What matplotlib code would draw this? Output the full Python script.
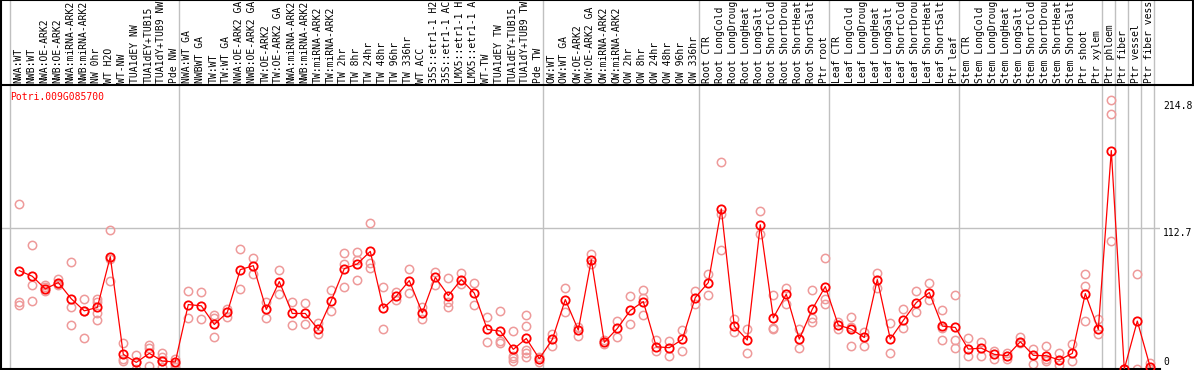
import matplotlib
matplotlib.use("Agg")
import matplotlib.pyplot as plt

# sample names (one per column), grouped by the grey separators
labels = [
    "NWA:WT", "NWB:WT", "NWA:OE-ARK2", "NWB:OE-ARK2", "NWA:miRNA-ARK2", "NWB:miRNA-ARK2",
    "NW 0hr", "WT H2O", "WT-NW", "TUA1dEY NW", "TUA1dEY+TUB15 NW", "TUA1dY+TUB9 NW", "Pde NW",
    "NWA:WT GA", "NWBWT GA", "TW:WT", "TW:WT GA", "NWA:OE-ARK2 GA", "NWB:OE-ARK2 GA",
    "TW:OE-ARK2", "TW:OE-ARK2 GA", "NWA:miRNA-ARK2 GA", "NWB:miRNA-ARK2 GA", "TW:miRNA-ARK2",
    "TW:miRNA-ARK2 GA", "TW 2hr", "TW 8hr", "TW 24hr", "TW 48hr", "TW 96hr", "TW 336hr",
    "WT ACC", "35S::etr1-1 H2O", "35S::etr1-1 ACC", "LMX5::etr1-1 H2O", "LMX5::etr1-1 ACC",
    "WT-TW", "TUA1dEY TW", "TUA1dEY+TUB15 TW", "TUA1dY+TUB9 TW", "Pde TW",
    "OW:WT", "OW:WT GA", "OW:OE-ARK2", "OW:OE-ARK2 GA", "OW:miRNA-ARK2", "OW:miRNA-ARK2 GA",
    "OW 2hr", "OW 8hr", "OW 24hr", "OW 48hr", "OW 96hr", "OW 336hr",
    "Root CTR", "Root LongCold", "Root LongDrought", "Root LongHeat", "Root LongSalt",
    "Root ShortCold", "Root ShortDrought", "Root ShortHeat", "Root ShortSalt", "Ptr root",
    "Leaf CTR", "Leaf LongCold", "Leaf LongDrought", "Leaf LongHeat", "Leaf LongSalt",
    "Leaf ShortCold", "Leaf ShortDrought", "Leaf ShortHeat", "Leaf ShortSalt", "Ptr leaf",
    "Stem CTR", "Stem LongCold", "Stem LongDrought", "Stem LongHeat", "Stem LongSalt",
    "Stem ShortCold", "Stem ShortDrought", "Stem ShortHeat", "Stem ShortSalt", "Ptr shoot",
    "Ptr xylem", "Ptr phloem", "Ptr fiber", "Ptr vessel", "Ptr fiber vessel",
]

# group separators (index of first sample after the line)
separators = [0, 13, 41, 53, 63, 73, 84, 85, 86, 87, 88]

means = [
    78.6, 74.1, 64.0, 69.1, 56.1, 46.5, 49.2, 89.8, 11.7, 5.3, 12.5, 6.4, 5.6,
    51.5, 50.5, 35.6, 45.2, 79.4, 82.6, 47.6, 69.9, 44.4, 44.4, 31.6, 54.7, 80.2, 84.0,
    94.0, 48.6, 58.2, 70.7, 44.9, 73.3, 58.7, 71.5, 60.6, 31.6, 30.3, 15.7, 24.4, 8.2,
    23.6, 55.5, 31.1, 87.4, 21.3, 32.4, 46.8, 53.9, 17.8, 17.0, 23.6, 57.1,
    69.1, 128.0, 34.3, 23.1, 115.3, 40.9, 59.8, 23.9, 47.8, 65.9,
    35.1, 31.9, 25.2, 71.5, 23.9, 38.8, 53.1, 61.1, 34.3, 33.2,
    15.9, 16.7, 11.7, 10.6, 21.8, 10.9, 10.6, 7.2, 12.5, 60.3, 31.6,
    174.6, 0.0, 38.3, 1.3,
]

replicates = [
    [132, 53.4, 51], [99.4, 67.5, 54.2], [67.5, 62.7, 65.6], [71.7, 67.5, 68],
    [85.8, 49.2, 34.8], [56.1, 24.4, 46.5], [56.1, 53.4, 44.9, 38.8], [110.8, 87.9, 70.7],
    [20.5, 7.7, 6.6], [10.9, 0, 5.3], [18.9, 17.0, 2.4], [12.5, 9.8, 6.6, 1.3], [8.2, 4.0, 1.3],
    [62.7, 40.9], [61.9, 39.6], [42.8, 40.7, 25.5], [48.1, 41.7], [95.7, 64.3], [89.0, 76.0],
    [53.9, 40.9], [79.4, 60.3], [53.9, 34.8], [53.1, 35.6], [36.9, 27.6], [63.5, 46.2],
    [93.0, 84.2, 65.4], [93.8, 86.9, 71.5], [116.4, 85.0, 80.5], [65.4, 31.9], [61.4, 55.0],
    [80.2, 60.8], [49.7, 39.6], [77.6, 67.0], [73.1, 53.4, 49.2], [77.1, 67.8], [69.1, 51.0],
    [41.7, 21.3], [46.0, 22.6, 20.5], [30.3, 10.4, 6.6, 8.5], [42.8, 34.3, 15.1, 12.5, 9.8],
    [9.8, 5.8],
    [27.9, 18.6], [65.1, 45.7], [33.7, 26.3], [91.7, 83.7], [23.1, 19.9], [38.3, 25.8],
    [58.2, 35.9], [63.0, 57.1, 42.8], [23.1, 14.6], [22.6, 10.6], [31.1, 14.1], [62.2, 52.3],
    [76.0, 59.5], [165.5, 123.5, 95.4], [39.6, 29.8], [31.9, 12.5], [126.5, 107.6],
    [59.0, 32.9, 31.9], [64.6, 52.3], [32.1, 17.0], [63.5, 40.9, 37.2], [89.0, 56.3, 52.3],
    [37.2, 31.9], [41.7, 33.7, 18.6], [29.2, 18.6], [77.1, 65.1], [36.4, 12.5], [47.6, 32.4],
    [62.7, 45.7], [69.1, 55.0], [46.8, 32.4, 23.1], [59.5, 23.1, 16.5],
    [24.4, 10.6], [21.3, 10.6], [14.6, 7.7], [12.5, 7.7], [25.8, 20.5], [15.9, 4.0],
    [18.3, 7.7, 6.6], [12.5, 3.2], [19.9, 6.4], [76.3, 66.7, 38.3], [39.9, 27.6],
    [214.8, 203.8, 102.6], [0, 0], [76.3, 0], [4.5, 0],
]

gene = "Potri.009G085700"
y_labels = [214.8, 112.7, 0]
max_chars = 14   # the label strip only has room for 14 characters

# layout in pixels
W, H = 1194, 370
dpi = 100
plot_left, plot_right, plot_top, plot_bottom = 1, 1160, 85, 369
col0, col_w = 10, 13      # first separator and column width (px)


def px_to_col(px):
    return (px - col0) / col_w


mono = "DejaVu Sans Mono"
fs = 7.0
grey = "#c0c0c0"
red = "#ff0000"
pink = "#ee9a9a"

fig = plt.figure(figsize=(W / dpi, H / dpi), dpi=dpi)

ax = fig.add_axes([plot_left / W, (H - plot_bottom) / H,
                   (plot_right - plot_left) / W, (plot_bottom - plot_top) / H])
ax_lab = fig.add_axes([plot_left / W, (H - plot_top) / H,
                       (W - 1 - plot_left) / W, plot_top / H])

xs = [i + 0.715 for i in range(len(means))]

ax.set_xlim(px_to_col(plot_left), px_to_col(plot_right))
ax.set_ylim(0, 227)
for s in separators:
    ax.axvline(s, color=grey, lw=1, zorder=0)
ax.axhline(112.7, color=grey, lw=1, zorder=0)

rx = [xs[i] for i, r in enumerate(replicates) for _ in r]
ry = [v for r in replicates for v in r]
ax.plot(rx, ry, ls="none", marker="o", ms=6, mfc="none", mec=pink, mew=1.1, zorder=2)
ax.plot(xs, means, color=red, lw=0.9, zorder=3)
ax.plot(xs, means, ls="none", marker="o", ms=6, mfc="none", mec=red, mew=1.3, zorder=4)

ax.set_xticks([])
ax.set_yticks([])
for side in ["left", "bottom"]:
    ax.spines[side].set_linewidth(1.5)
    ax.spines[side].set_color("black")
ax.spines["right"].set_visible(False)
ax.spines["top"].set_visible(False)

ax.annotate(gene, xy=(0, 1), xycoords="axes fraction", xytext=(9, -12),
            textcoords="offset pixels", ha="left", va="center",
            color=red, fontsize=fs, family=mono)

offsets = {214.8: -6, 112.7: -4.5, 0: 7}
for v in y_labels:
    ax.annotate(f"{v:g}", xy=(1, v), xycoords=("axes fraction", "data"),
                xytext=(3, offsets[v]), textcoords="offset pixels",
                ha="left", va="center", fontsize=fs, family=mono,
                annotation_clip=False)

# label strip
ax_lab.set_xlim(px_to_col(plot_left), px_to_col(W - 1))
ax_lab.set_ylim(0, 1)
for s in separators:
    ax_lab.axvline(s, color=grey, lw=1, zorder=0)
for x, name in zip(xs, labels):
    ax_lab.text(x - 0.08, 0.025, name[:max_chars].rstrip(), rotation=90,
                rotation_mode="anchor", ha="left", va="center",
                fontsize=fs, family=mono)
ax_lab.set_xticks([])
ax_lab.set_yticks([])
for sp in ax_lab.spines.values():
    sp.set_linewidth(1.5)
    sp.set_color("black")

fig.savefig("out.png", dpi=dpi)
